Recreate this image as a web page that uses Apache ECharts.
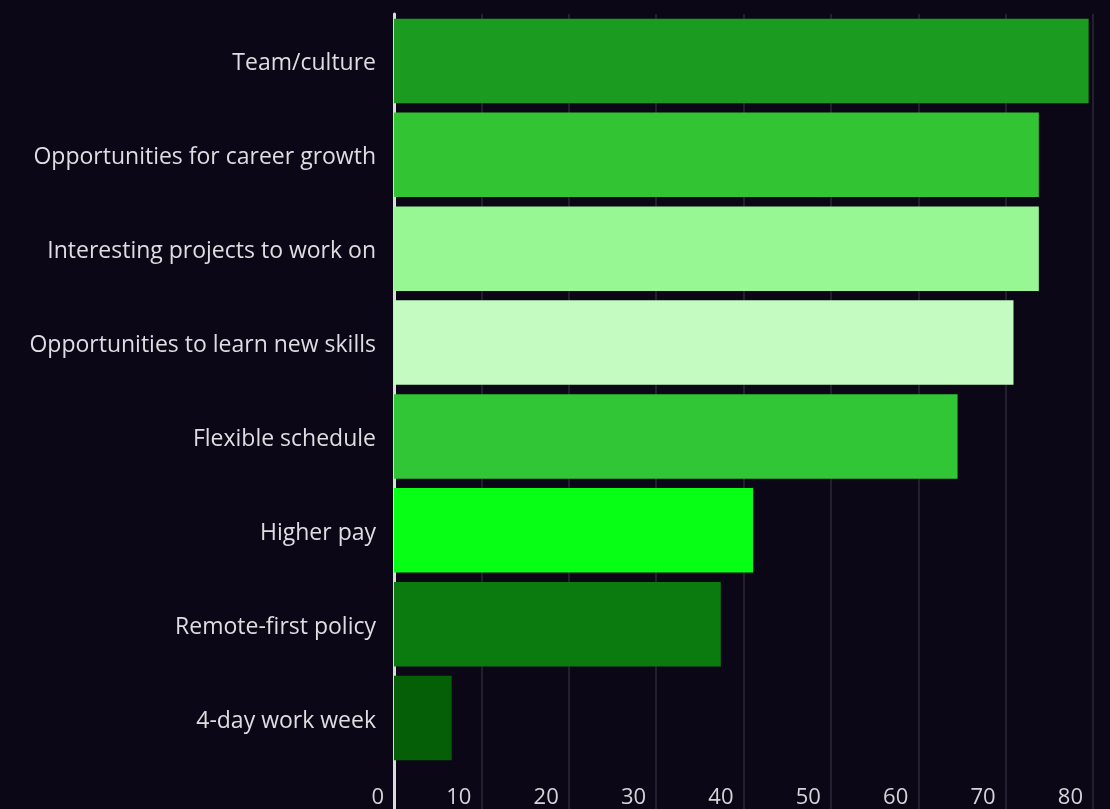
<!DOCTYPE html>
<html>
<head>
<meta charset="utf-8">
<title>What attracts people to a job</title>
<script src="https://cdn.jsdelivr.net/npm/echarts@6/dist/echarts.min.js"></script>
<style>
  html, body { margin: 0; padding: 0; background: #0b0716; }
  #chart { width: 1110px; height: 809px; }
</style>
</head>
<body>
<div id="chart"></div>
<script>
// Reasons, top to bottom
const categories = [
  'Team/culture',
  'Opportunities for career growth',
  'Interesting projects to work on',
  'Opportunities to learn new skills',
  'Flexible schedule',
  'Higher pay',
  'Remote-first policy',
  '4-day work week'
];

// Share of respondents (%)
const values = [79.5, 73.8, 73.8, 70.9, 64.5, 41.1, 37.4, 6.6];

// One fill per bar
const barColors = [
  '#1b9b1f', '#33c433', '#97f793', '#c3fbc0',
  '#31c636', '#06ff14', '#0b7b10', '#055f07'
];

// Value axis
const axisMin = 0;
const axisMax = 80;
const axisStep = 10;

const FONT = '"Open Sans", "Noto Sans", sans-serif';
const gridLine = { show: true, lineStyle: { color: '#2c2838', width: 1.5 } };

const chart = echarts.init(document.getElementById('chart'), null, { renderer: 'canvas' });

chart.setOption({
  backgroundColor: '#0b0716',
  animation: false,
  grid: [
    { left: 394, right: 17, top: 14, bottom: 44 },
    // strip under the bars so the rules run to the bottom edge
    { left: 394, right: 17, top: 765, bottom: 0 }
  ],
  xAxis: [
    {
      gridIndex: 0,
      type: 'value',
      min: axisMin,
      max: axisMax,
      interval: axisStep,
      axisLine: { show: false },
      axisTick: { show: false },
      splitLine: gridLine,
      axisLabel: {
        color: '#d4d4d8',
        fontSize: 22,
        fontFamily: FONT,
        margin: 22,
        align: 'right',
        padding: [0, 10, 0, 0]
      }
    },
    {
      gridIndex: 1,
      type: 'value',
      min: axisMin,
      max: axisMax,
      interval: axisStep,
      axisLine: { show: false },
      axisTick: { show: false },
      axisLabel: { show: false },
      splitLine: gridLine
    }
  ],
  yAxis: [
    {
      gridIndex: 0,
      type: 'category',
      data: categories,
      inverse: true,
      axisLine: { show: true, lineStyle: { color: '#dcdcdc', width: 3 } },
      axisTick: { show: false },
      splitLine: { show: false },
      axisLabel: {
        margin: 18,
        formatter: (name) => '{cat|' + name + '}',
        rich: {
          cat: {
            color: '#dedee2',
            fontSize: 23,
            fontFamily: FONT,
            padding: [6, 0, 0, 0]
          }
        }
      }
    },
    {
      gridIndex: 1,
      type: 'value',
      axisLine: { show: true, onZero: false, lineStyle: { color: '#dcdcdc', width: 3 } },
      axisTick: { show: false },
      axisLabel: { show: false },
      splitLine: { show: false }
    }
  ],
  series: [
    {
      type: 'bar',
      xAxisIndex: 0,
      yAxisIndex: 0,
      barCategoryGap: '10%',
      data: values.map((v, i) => ({ value: v, itemStyle: { color: barColors[i] } }))
    }
  ]
});
</script>
</body>
</html>
